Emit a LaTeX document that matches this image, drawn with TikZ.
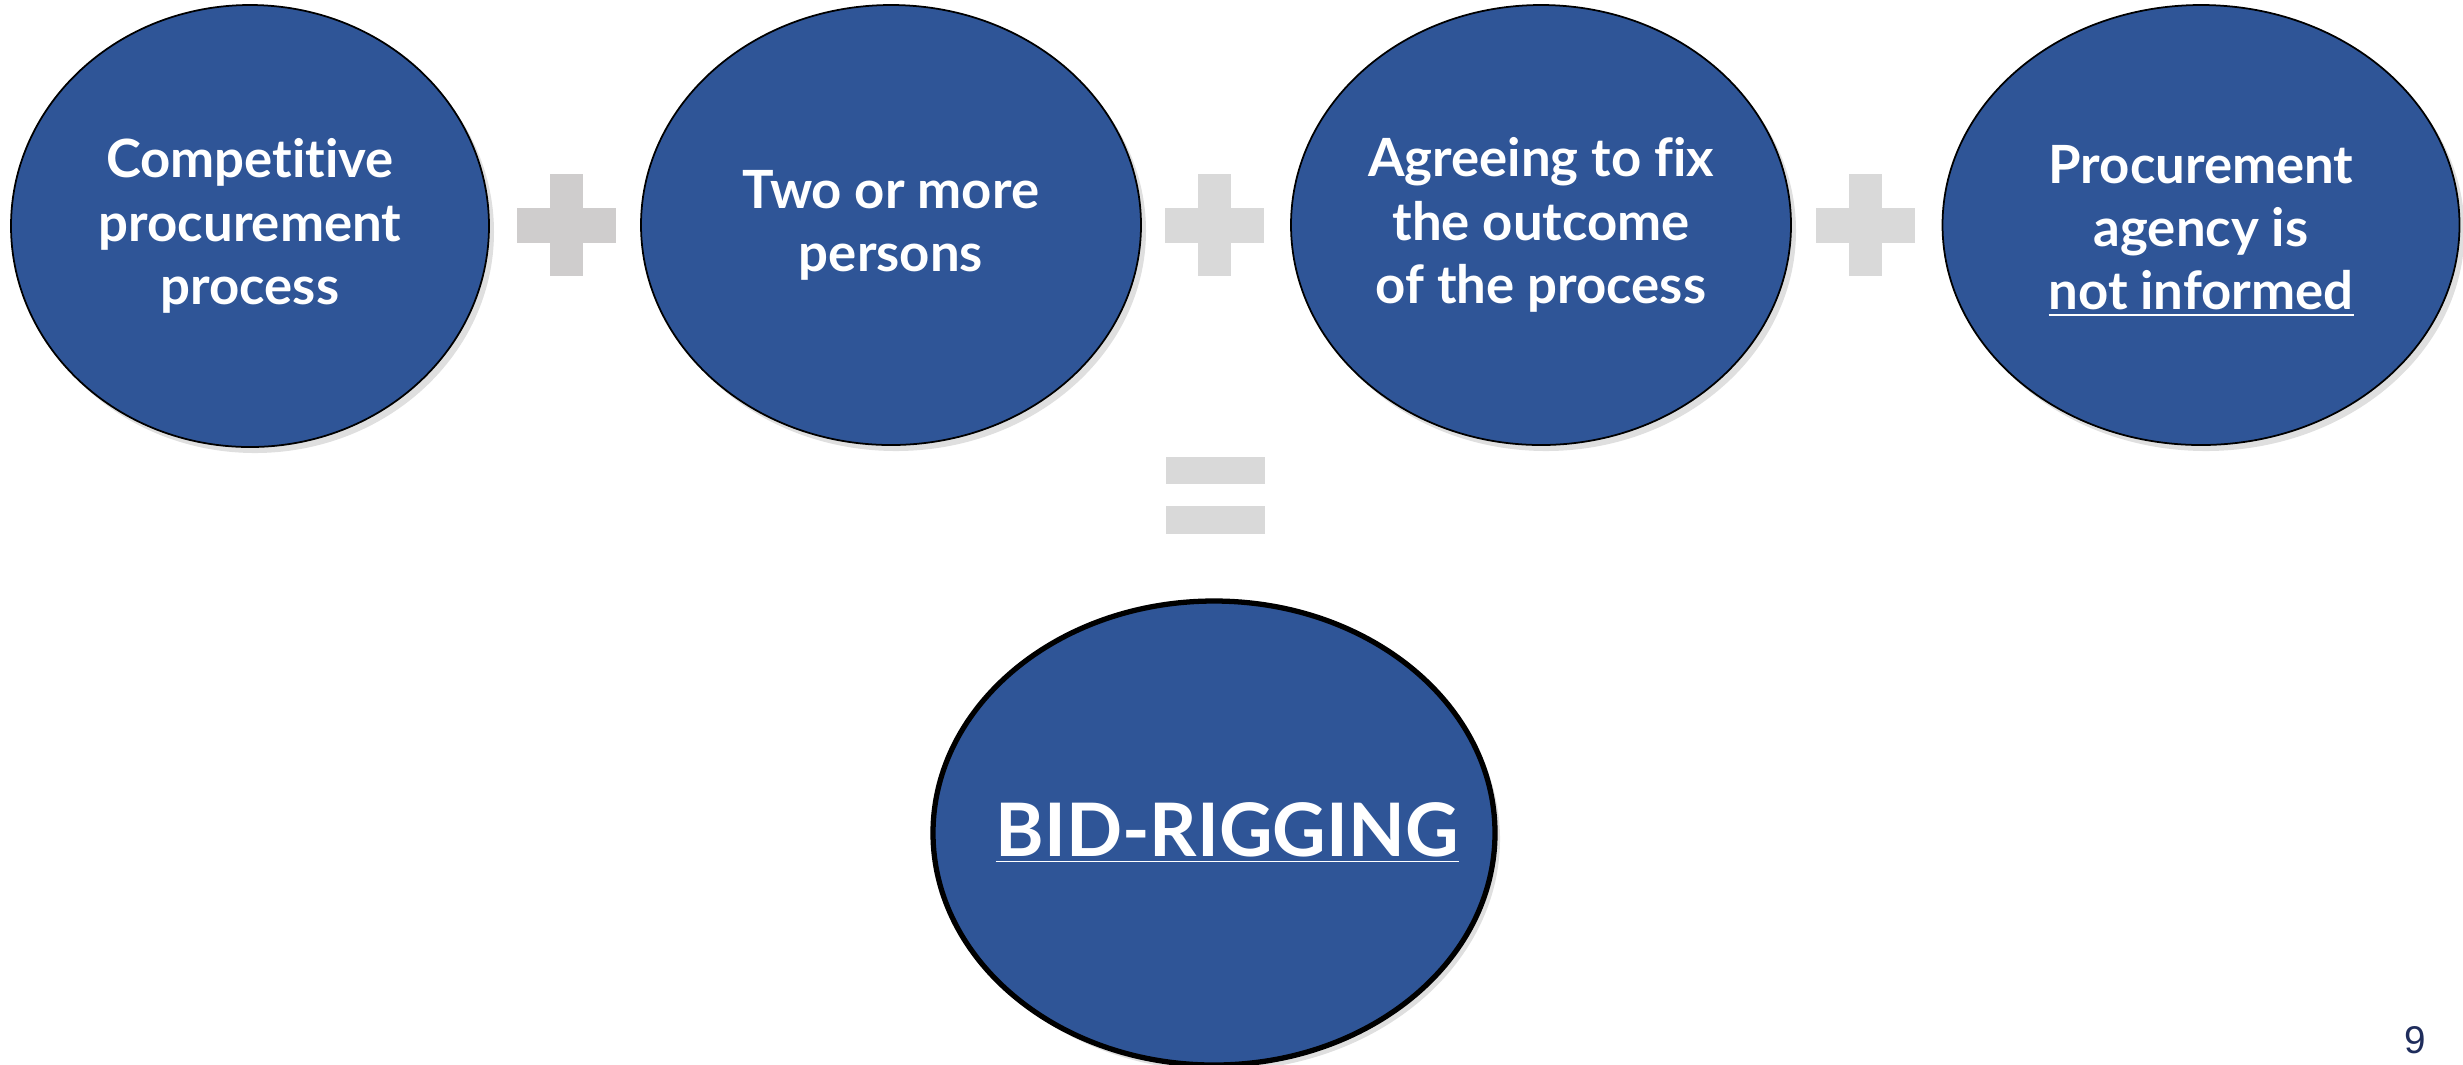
\documentclass[tikz,border=0pt]{standalone}
\usepackage{fontspec}
\setmainfont{Lato}[Ligatures=NoCommon]
\newfontfamily\numfont{Liberation Sans}
\usetikzlibrary{shapes.geometric,shadows}
\definecolor{ovalblue}{HTML}{2F5597}
\definecolor{signgrey}{HTML}{D9D9D9}
\definecolor{signgreyd}{HTML}{CFCDCD}
\definecolor{pagenum}{HTML}{1F2D5C}

\begin{document}
\begin{tikzpicture}
\tikzstyle{oval}=[ellipse, draw=black, line width=0.5pt, fill=ovalblue, text=white, align=center, inner sep=0pt, font=\bfseries\fontsize{15}{18}\selectfont, drop shadow={shadow xshift=0.05cm, shadow yshift=-0.06cm, opacity=0.25}]
\tikzstyle{bigtext}=[text=white, font=\bfseries\fontsize{21}{25}\selectfont]
\useasboundingbox (0,0) rectangle (24.63,-10.64);
\node (comp) at (2.50,-2.26) [oval, minimum width=4.78cm, minimum height=4.42cm] {Competitive\\procurement\\process};
\node (pers) at (8.91,-2.25) [oval, minimum width=5.00cm, minimum height=4.40cm] {Two or more\\persons};
\node (agree) at (15.41,-2.25) [oval, minimum width=5.00cm, minimum height=4.40cm] {Agreeing to fix\\the outcome\\of the process};
\node (agency) at (22.01,-2.25) [oval, minimum width=5.17cm, minimum height=4.40cm] {};
\node (agencylabel) at ([yshift=-0.06cm]agency.center) [text=white, align=center, font=\bfseries\fontsize{15}{18}\selectfont] {Procurement\\agency is\\\underline{not informed}};
\foreach \x/\c in {5.66/signgreyd,12.14/signgrey,18.65/signgrey} {
  \fill[\c] (\x-0.495,-2.08) rectangle (\x+0.495,-2.43);
  \fill[\c] (\x-0.165,-1.74) rectangle (\x+0.165,-2.76);
}
\fill[signgrey] (11.66,-4.57) rectangle (12.65,-4.84);
\fill[signgrey] (11.66,-5.06) rectangle (12.65,-5.34);
\node (rig) at (12.14,-8.33) [oval, line width=1.5pt, minimum width=5.62cm, minimum height=4.64cm] {};
\node (riglabel) at ([xshift=0.13cm]rig.center) [bigtext] {\underline{BID-RIGGING}};
\node (pnum) at (24.15,-10.40) [font=\numfont\fontsize{11}{13}\selectfont, text=pagenum] {9};
\end{tikzpicture}
\end{document}
